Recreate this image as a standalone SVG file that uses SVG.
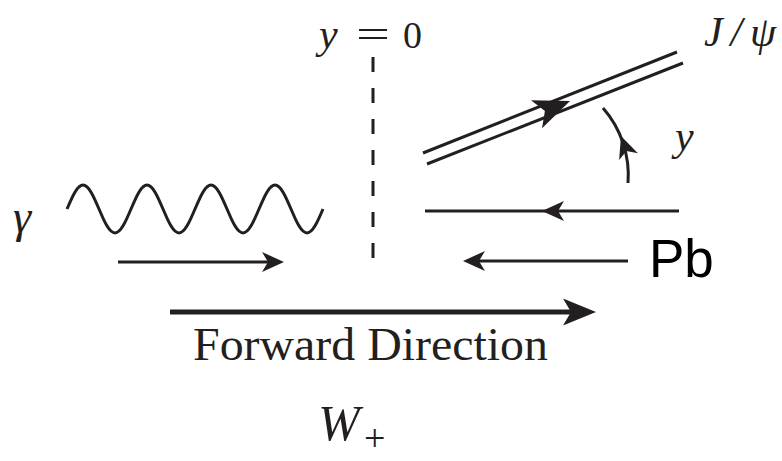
<svg xmlns="http://www.w3.org/2000/svg" width="782" height="461" viewBox="0 0 782 461">
<style>
.ln{stroke:#231f20;stroke-width:3;fill:none}
.hd{fill:#231f20;stroke:none}
.m{font-family:"Liberation Serif",serif;font-style:italic;fill:#231f20}
.r{font-family:"Liberation Serif",serif;fill:#231f20}
.s{font-family:"Liberation Sans",sans-serif;fill:#000}
</style>
<defs>
<path id="ah" d="M0,0 L-22,-10 L-16,0 L-22,10 Z"/>
<path id="ahBig" d="M0,0 L-33,-13.5 L-25,0 L-33,13.5 Z"/>
<path id="ahDbl" d="M0,0 L-36,-15 L-27,0 L-36,15 Z"/>
</defs>
<rect width="782" height="461" fill="#fff"/>

<g id="photon">
<path class="ln" d="M67,209 c5.22,-12.29 10.21,-24 16,-24 c5.79,0 10.78,11.71 16,24 c5.22,12.29 10.21,24 16,24 c5.79,0 10.78,-11.71 16,-24 c5.22,-12.29 10.21,-24 16,-24 c5.79,0 10.78,11.71 16,24 c5.22,12.29 10.21,24 16,24 c5.79,0 10.78,-11.71 16,-24 c5.22,-12.29 10.21,-24 16,-24 c5.79,0 10.78,11.71 16,24 c5.22,12.29 10.21,24 16,24 c5.79,0 10.78,-11.71 16,-24 c5.22,-12.29 10.21,-24 16,-24 c5.79,0 10.78,11.71 16,24 c5.22,12.29 10.21,24 16,24 c5.79,0 10.78,-11.71 16,-24"/>
<text class="m" x="13" y="232" font-size="46">γ</text>
</g>

<g id="y0">
<line class="ln" x1="373" y1="57" x2="373" y2="263" stroke-dasharray="15 16"/>
<text class="m" x="319" y="48" font-size="42">y</text>
<text class="r" x="356" y="48" font-size="40" textLength="34" lengthAdjust="spacingAndGlyphs">=</text>
<text class="r" x="403" y="48" font-size="38">0</text>
</g>

<g id="jpsi">
<line class="ln" x1="423" y1="153" x2="677" y2="52"/>
<line class="ln" x1="427" y1="164" x2="683" y2="63"/>
<use href="#ahDbl" class="hd" transform="translate(570,101) rotate(-21.6)"/>
<text class="m" x="704" y="46" font-size="42" textLength="72" lengthAdjust="spacing">J/ψ</text>
</g>

<g id="rapidity">
<path class="ln" d="M628,183 A102,102 0 0 0 603,108"/>
<use href="#ah" class="hd" transform="translate(621,136) rotate(-110)"/>
<text class="m" x="675" y="150" font-size="42">y</text>
</g>

<g id="Pb">
<line class="ln" x1="425" y1="211" x2="679" y2="211"/>
<use href="#ah" class="hd" transform="translate(542,211) rotate(180)"/>
<text class="s" x="649" y="277" font-size="53">Pb</text>
</g>

<g id="connectors">
<line class="ln" x1="118" y1="262" x2="270" y2="262"/>
<use href="#ah" class="hd" transform="translate(284,262)"/>
<line class="ln" x1="476" y1="261" x2="628" y2="261"/>
<use href="#ah" class="hd" transform="translate(463,261) rotate(180)"/>
<line x1="170" y1="312" x2="575" y2="312" stroke="#231f20" stroke-width="5"/>
<use href="#ahBig" class="hd" transform="translate(596,312)"/>
</g>

<g id="labels">
<text class="r" x="193" y="360" font-size="46" textLength="355" lengthAdjust="spacingAndGlyphs">Forward Direction</text>
<text class="m" x="318" y="440" font-size="50">W</text>
<text class="r" x="364" y="451" font-size="38">+</text>
</g>
</svg>
